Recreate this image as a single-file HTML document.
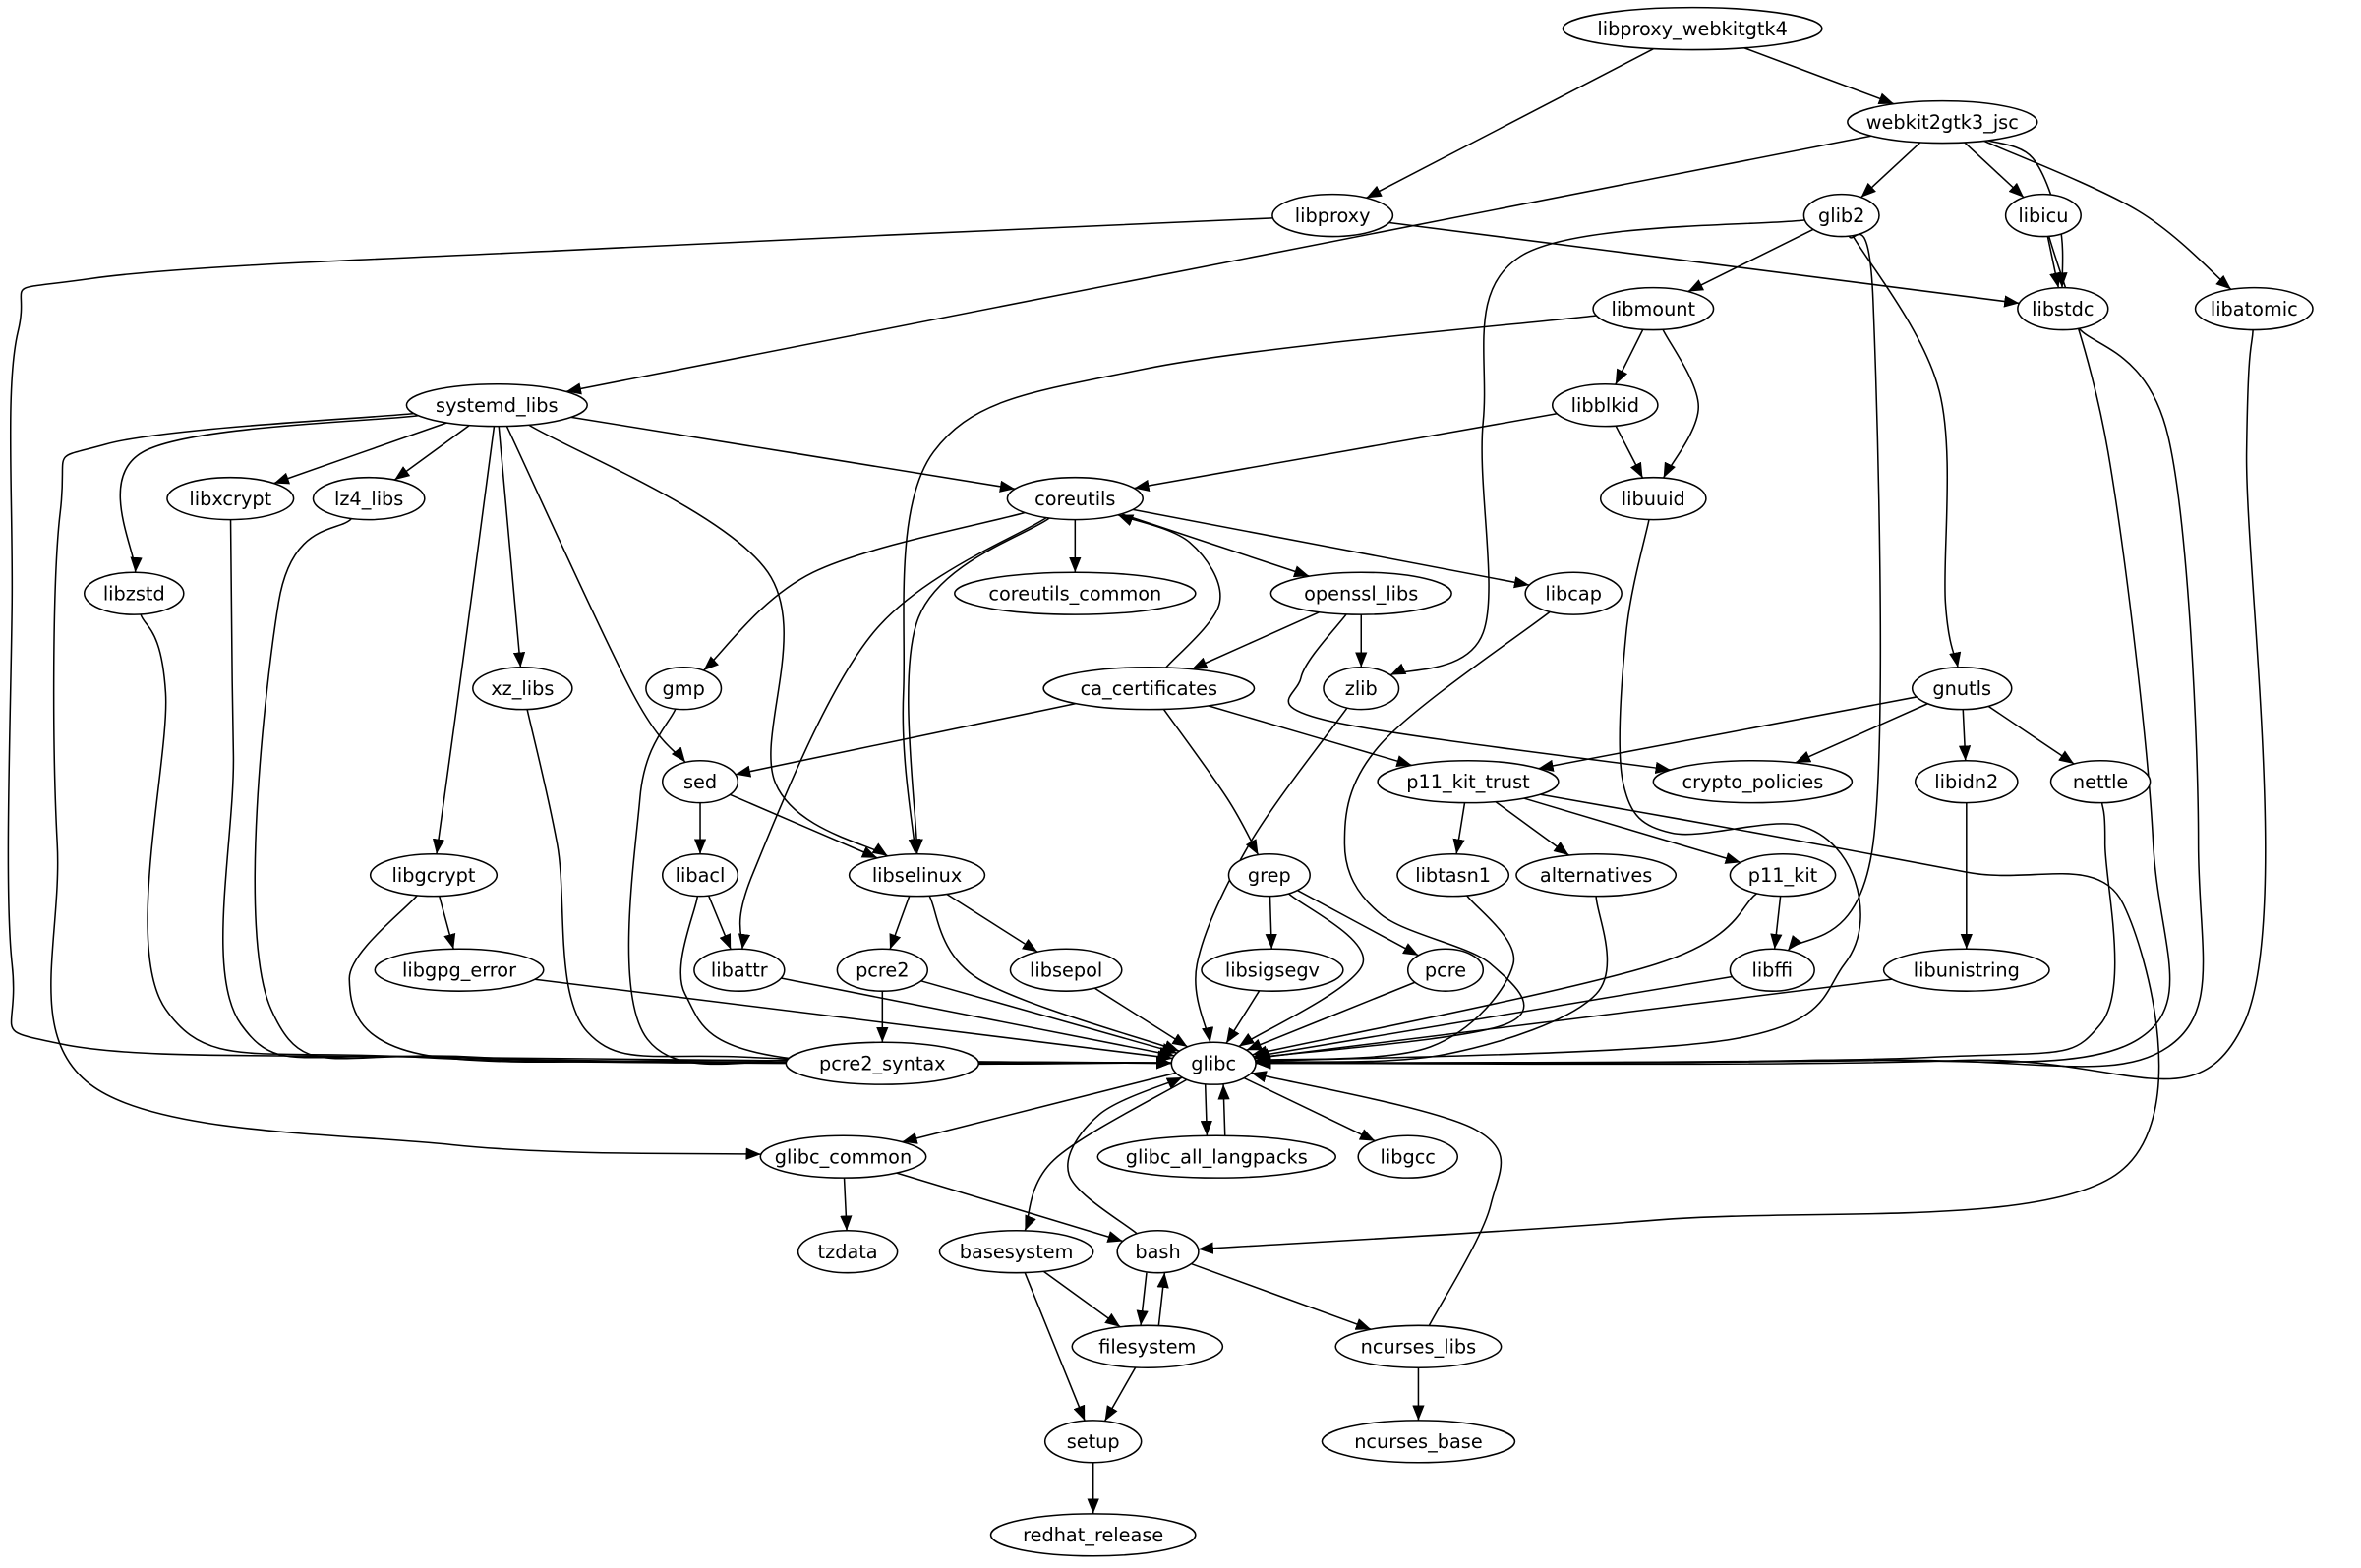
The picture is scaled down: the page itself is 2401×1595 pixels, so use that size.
<!DOCTYPE html>
<html><head><meta charset="utf-8"><style>
html,body{margin:0;padding:0;background:#fff;}
svg{display:block;}
text{font-family:"DejaVu Sans","Liberation Sans",sans-serif;font-size:12.6px;fill:#000;}
</style></head><body>
<svg id="g" width="2401" height="1595" viewBox="0 0 1568 1041" preserveAspectRatio="none" xmlns="http://www.w3.org/2000/svg">
<defs><marker id="a" markerUnits="userSpaceOnUse" markerWidth="10" markerHeight="8" refX="10" refY="4" orient="auto"><path d="M0,0 L10,4 L0,8 z" fill="#000"/></marker></defs>
<g id="edges" fill="none" stroke="#000" stroke-width="1"></g>
<g id="nodes"></g>
</svg>
<script>
var N={
libproxy_webkitgtk4:[1124,19,86],webkit2gtk3_jsc:[1290,81,63],libproxy:[885,143,40],glib2:[1223,143,25],libicu:[1357,143,25],
libstdc:[1370,205,30],libatomic:[1497,205,39],libmount:[1098,205,40],systemd_libs:[330,269,60],libblkid:[1066,269,35],
libxcrypt:[153,331,42],lz4_libs:[245,331,37],coreutils:[714,331,45],libuuid:[1098,331,35],libzstd:[89,394,33],
coreutils_common:[714,394,80],openssl_libs:[904,394,60],libcap:[1045,394,32],xz_libs:[347,457,33],gmp:[454,457,25],
ca_certificates:[763,457,70],zlib:[904,457,25],gnutls:[1303,457,33],sed:[465,519,25],p11_kit_trust:[975,519,60],
crypto_policies:[1164,519,66],libidn2:[1306,519,34],nettle:[1395,519,33],libgcrypt:[288,581,42],libacl:[465,581,25],
libselinux:[609,581,45],grep:[843,581,27],libtasn1:[965,581,37],alternatives:[1060,581,53],p11_kit:[1184,581,35],
libgpg_error:[305,644,56],libattr:[491,644,30],pcre2:[586,644,30],libsepol:[708,644,37],libsigsegv:[845,644,47],
pcre:[960,644,25],libffi:[1177,644,28],libunistring:[1306,644,55],pcre2_syntax:[586,706,64],glibc:[806,706,28],
glibc_common:[560,768,55],glibc_all_langpacks:[808,768,79],libgcc:[935,768,33],tzdata:[563,831,33],basesystem:[675,831,51],
bash:[769,831,27],filesystem:[762,894,50],ncurses_libs:[942,894,55],setup:[726,957,32],ncurses_base:[942,957,64],redhat_release:[726,1019,68]};
var RY=14;
var E=[
['libproxy_webkitgtk4','webkit2gtk3_jsc'],['libproxy_webkitgtk4','libproxy'],['webkit2gtk3_jsc','systemd_libs'],
['webkit2gtk3_jsc','glib2'],['webkit2gtk3_jsc','libicu'],['webkit2gtk3_jsc','libstdc',[[1350,105],[1368,150]]],['webkit2gtk3_jsc','libatomic',[[1420,140]]],
['libproxy','libstdc'],['libproxy','glibc',[[400,165],[60,185],[12,220],[8,400],[8,640],[40,693],[300,702]]],
['glib2','libmount'],['glib2','zlib',[[1010,170],[985,280],[985,420]]],['glib2','libffi',[[1244,200],[1244,560]]],
['glib2','gnutls',[[1288,260],[1292,400]]],['libicu','libstdc'],['libicu','glibc',[[1400,300],[1430,560],[1420,690],[1200,704]]],
['libstdc','glibc',[[1440,290],[1460,560],[1440,695],[1250,704]]],['libatomic','glibc',[[1492,300],[1490,680],[1300,704]]],
['libmount','libselinux',[[760,245],[620,300],[600,460]]],['libmount','libblkid'],['libmount','libuuid',[[1128,270]]],
['libblkid','coreutils'],['libblkid','libuuid'],['libuuid','glibc',[[1080,420],[1078,520],[1110,553],[1195,548],[1232,585],[1225,640],[1150,690]]],
['systemd_libs','libxcrypt'],['systemd_libs','lz4_libs'],['systemd_libs','libzstd',[[95,300]]],['systemd_libs','coreutils'],
['systemd_libs','libselinux',[[510,380],[515,520]]],['systemd_libs','sed',[[420,460]]],['systemd_libs','xz_libs'],
['systemd_libs','libgcrypt',[[310,420]]],['systemd_libs','glibc_common',[[70,295],[40,340],[38,560],[60,720],[300,760]]],
['libxcrypt','glibc',[[155,500],[160,680],[300,702]]],['lz4_libs','glibc',[[185,400],[180,670],[320,702]]],
['libzstd','glibc',[[110,460],[110,670],[280,702]]],['xz_libs','glibc',[[370,560],[390,685],[500,702]]],
['gmp','glibc',[[425,530],[430,690],[560,703]]],
['coreutils','coreutils_common'],['coreutils','openssl_libs'],['coreutils','libcap'],['coreutils','gmp',[[540,380]]],
['coreutils','libselinux',[[610,410]]],['coreutils','libattr',[[580,420],[500,580]]],['ca_certificates','coreutils',[[810,400],[790,360]]],
['openssl_libs','ca_certificates'],['openssl_libs','zlib'],['openssl_libs','crypto_policies',[[864,450],[880,478]]],
['ca_certificates','sed'],['ca_certificates','p11_kit_trust'],['ca_certificates','grep',[[815,530]]],
['zlib','glibc',[[830,560],[795,640]]],['libcap','glibc',[[917,494],[893,560],[917,607],[990,640],[1000,680]]],
['gnutls','p11_kit_trust'],['gnutls','crypto_policies'],['gnutls','libidn2'],['gnutls','nettle'],
['nettle','glibc',[[1398,560],[1395,680],[1280,702]]],['libidn2','libunistring'],['libunistring','glibc'],
['sed','libacl'],['sed','libselinux'],['p11_kit_trust','libtasn1'],['p11_kit_trust','alternatives'],['p11_kit_trust','p11_kit'],
['p11_kit_trust','bash',[[1150,550],[1306,579],[1410,600],[1405,780],[1100,810]]],
['libtasn1','glibc',[[1005,640],[950,695]]],['alternatives','glibc',[[1060,660],[960,700]]],
['p11_kit','libffi'],['p11_kit','glibc',[[1100,640]]],['libffi','glibc'],
['libgcrypt','libgpg_error'],['libgcrypt','glibc',[[232,650],[280,700],[500,704]]],['libgpg_error','glibc'],
['libacl','libattr'],['libacl','glibc',[[455,660],[520,702]]],['libattr','glibc'],
['libselinux','pcre2'],['libselinux','libsepol'],['libselinux','glibc',[[650,650]]],
['pcre2','pcre2_syntax'],['pcre2','glibc'],['libsepol','glibc'],
['grep','libsigsegv'],['grep','pcre'],['grep','glibc',[[905,640]]],['libsigsegv','glibc'],['pcre','glibc'],
['glibc','glibc_common'],['glibc','glibc_all_langpacks',null,-6],['glibc_all_langpacks','glibc',null,6],['glibc','libgcc'],
['glibc','basesystem',[[700,770]]],['glibc_common','tzdata'],['glibc_common','bash'],['bash','glibc',[[710,780],[730,740]]],
['basesystem','filesystem'],['basesystem','setup'],['bash','filesystem',null,-6],['filesystem','bash',null,6],
['bash','ncurses_libs'],['ncurses_libs','glibc',[[990,800],[980,750]]],['ncurses_libs','ncurses_base'],
['filesystem','setup'],['setup','redhat_release']];
function bnd(n,tx,ty,dx){var c=N[n],cx=c[0]+(dx||0),cy=c[1],vx=tx-cx,vy=ty-cy;
 var rx=c[2];var t=1/Math.sqrt(vx*vx/(rx*rx)+vy*vy/(RY*RY));return [cx+vx*t,cy+vy*t];}
var eg=document.getElementById('edges'),ng=document.getElementById('nodes'),NS='http://www.w3.org/2000/svg';
E.forEach(function(e){var s=N[e[0]],t=N[e[1]],w=e[2]||[],dx=e[3]||0;
 var f=w.length?w[0]:[t[0]+dx,t[1]],l=w.length?w[w.length-1]:[s[0]+dx,s[1]];
 var p=[bnd(e[0],f[0],f[1],dx)].concat(w,[bnd(e[1],l[0],l[1],dx)]);
 var d='M'+p[0][0]+','+p[0][1];
 for(var i=0;i<p.length-1;i++){var p0=p[i-1]||p[i],p1=p[i],p2=p[i+1],p3=p[i+2]||p2;
  d+=' C'+(p1[0]+(p2[0]-p0[0])/6)+','+(p1[1]+(p2[1]-p0[1])/6)+' '+(p2[0]-(p3[0]-p1[0])/6)+','+(p2[1]-(p3[1]-p1[1])/6)+' '+p2[0]+','+p2[1];}
 var pa=document.createElementNS(NS,'path');pa.setAttribute('d',d);pa.setAttribute('marker-end','url(#a)');eg.appendChild(pa);});
for(var k in N){var c=N[k];var el=document.createElementNS(NS,'ellipse');
 el.setAttribute('cx',c[0]);el.setAttribute('cy',c[1]);el.setAttribute('rx',c[2]);el.setAttribute('ry',RY);
 el.setAttribute('fill','#fff');el.setAttribute('stroke','#000');ng.appendChild(el);
 var tx=document.createElementNS(NS,'text');tx.setAttribute('x',c[0]);tx.setAttribute('y',c[1]+4.5);
 tx.setAttribute('text-anchor','middle');tx.textContent=k;ng.appendChild(tx);}
</script>
</body></html>
